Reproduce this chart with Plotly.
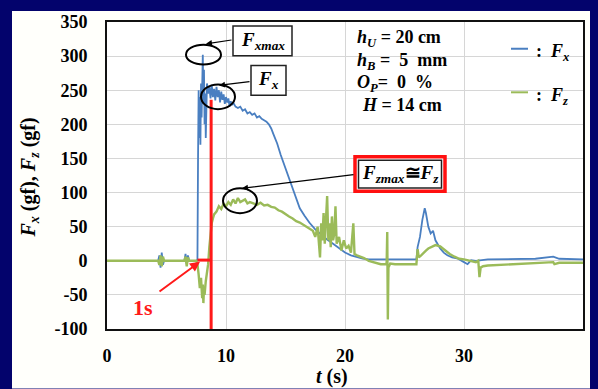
import plotly.graph_objects as go

# ---------------- data ----------------
t_x = [0, 4.3, 4.4, 4.5, 4.6, 4.7, 4.8, 6.5, 6.6, 6.7, 6.8, 6.9, 7.5,
       7.6, 7.65, 7.7, 7.75, 7.8, 7.85, 7.9, 7.95, 8.0, 8.05, 8.1, 8.15, 8.2, 8.25, 8.3, 8.35, 8.4,
       8.5, 8.6, 8.7, 8.8, 8.9, 9.0, 9.1, 9.2, 9.3, 9.4, 9.5, 9.6, 9.7, 9.8, 9.9, 10.0, 10.1, 10.2, 10.3, 10.4, 10.5, 10.6,
       10.8, 11.0, 11.2, 11.4, 11.6, 11.8, 12.0, 12.2, 12.4, 12.6, 12.8, 13.0, 13.2, 13.4, 13.6, 13.8,
       14.0, 14.3, 14.6, 15.0, 15.4, 15.8, 16.2, 16.6, 17.0, 17.5, 18.0, 18.5, 19.0, 19.5, 20.0, 20.5, 21.0, 21.5, 22.0, 24.0, 26.0,
       26.1, 26.3, 26.5, 26.7, 26.8, 26.9, 27.0, 27.2, 27.4, 27.6, 27.8, 28.0, 28.3, 28.6, 29.0, 29.5, 30.0, 30.3, 30.6, 31.0,
       32, 34, 36, 37.5, 38, 40]
F_x = [0, 0, 8, -10, 12, -6, 0, 0, 10, -5, 8, 0, 0,
       2, 150, 250, 180, 240, 170, 260, 210, 255, 302, 230, 280, 200, 245, 180, 240, 260,
       245, 255, 238, 258, 240, 252, 235, 255, 240, 250, 232, 248, 236, 244, 230, 240, 232, 238, 226, 234, 228, 232,
       226, 224, 226, 220, 222, 216, 218, 214, 216, 210, 212, 208, 206, 204, 200, 194,
       185, 172, 155, 135, 116, 95, 77, 66, 56, 46, 38, 31, 25, 18, 12, 8, 5, 3, 2, 2, 2,
       20, 35, 60, 77, 70, 62, 50, 40, 44, 30, 24, 18, 12, 8, 5, 3, -2, -5, 1, 0,
       2, 2, 3, 6, 3, 2]

t_z = [0, 4.3, 4.4, 4.5, 4.6, 4.7, 4.8, 6.5, 6.6, 6.7, 6.8, 6.9, 7.5,
       7.6, 7.7, 7.8, 7.9, 8.0, 8.05, 8.1, 8.15, 8.2, 8.3, 8.4, 8.5, 8.6, 8.7, 8.8, 8.9, 9.0,
       9.2, 9.4, 9.6, 9.8, 10.0, 10.2, 10.4, 10.6, 10.8, 11.0, 11.2, 11.4, 11.6, 11.8, 12.0,
       12.3, 12.6, 12.9, 13.2, 13.5, 13.8, 14.1, 14.4, 14.7, 15.0, 15.3, 15.6, 15.9, 16.2, 16.5, 16.8, 17.1,
       17.3, 17.5, 17.7, 17.9, 18.0, 18.1, 18.2, 18.3, 18.4, 18.5, 18.6, 18.7, 18.8, 18.9, 19.0,
       19.1, 19.2, 19.3, 19.5, 19.7, 19.9, 20.1, 20.3, 20.5, 20.7, 20.8, 21.0,
       21.3, 21.6, 22.0, 22.5, 23.0, 23.4, 23.5, 23.55, 23.6, 23.65, 23.8, 24.2, 25, 26.0,
       26.1, 26.2, 26.4, 26.6, 26.8, 27.0, 27.3, 27.6, 28.0, 28.4, 28.8, 29.2, 29.6, 30.0,
       30.5, 31.0, 31.2, 31.3, 31.4, 31.6, 32, 33, 34, 35, 36, 37, 37.5, 37.6, 38, 39, 40]
F_z = [0, 0, -6, 8, -8, 6, 0, 0, 6, -8, 5, 0, 0,
       -5, -20, -40, -25, -55, -35, -62, -40, -50, -30, -20, -5, 20, 45, 55, 62, 68,
       72, 80, 76, 84, 80, 86, 82, 90, 84, 92, 86, 88, 90, 84, 86,
       84, 82, 85, 81, 82, 79, 78, 74, 72, 68, 65, 62, 58, 56, 53, 50, 46,
       44, 35, 50, 5, 55, 30, 70, 25, 60, 95, 30, 55, 20, 65, 30,
       40, 80, 25, 35, 15, 30, 18, 22, 12, 55, 10, 8,
       6, 4, 0, -3, -5, -5, -3, 42, -86, -10, -4, -5, -5, -5,
       17, 5, 8, 12, 15, 18, 20, 23, 21, 15, 10, 6, 3, 2,
       0, -2, 0, -24, -10, -8, -7, -6, -5, -4, -4, -3, -2, -5, -3, -3, -3]

x_ticks = [0, 10, 20, 30]
y_ticks = [-100, -50, 0, 50, 100, 150, 200, 250, 300, 350]

# ---------------- layout helpers (pixel -> paper) ----------------
W, H = 598, 389
L, R, T, B = 107, 15, 19, 60
PW, PH = W - L - R, H - T - B


def px(x):
    return (x - L) / PW


def py(y):
    return (H - B - y) / PH


NAVY = "#03036c"
SERIF = "Liberation Serif"
BLUE = "#4a7fc1"
GREEN = "#9bbb59"

fig = go.Figure()
fig.add_trace(go.Scatter(x=t_x, y=F_x, mode="lines", name="Fx",
                         line=dict(color=BLUE, width=1.8), showlegend=False))
fig.add_trace(go.Scatter(x=t_z, y=F_z, mode="lines", name="Fz",
                         line=dict(color=GREEN, width=2.4), showlegend=False))

shapes = []
# white panel on navy background
shapes.append(dict(type="rect", xref="paper", yref="paper", layer="below",
                   x0=px(12), x1=px(590), y0=py(389), y1=py(8),
                   fillcolor="#fffffb", line=dict(width=0)))
shapes.append(dict(type="rect", xref="paper", yref="paper", layer="below",
                   x0=0, x1=1, y0=0, y1=1, fillcolor="white", line=dict(width=0)))

# red marker lines (1 s interval)
shapes.append(dict(type="line", xref="x", yref="y", x0=8.75, x1=8.75, y0=-100, y1=236,
                   line=dict(color="#ff1a1a", width=3)))
shapes.append(dict(type="line", xref="x", yref="y", x0=7.6, x1=8.75, y0=1, y1=1,
                   line=dict(color="#ff1a1a", width=3)))

# ellipses
for (x0, x1, y0, y1) in [(186, 221, 42, 62), (201, 235, 82, 107), (223, 257, 187, 212)]:
    shapes.append(dict(type="circle", xref="paper", yref="paper",
                       x0=px(x0), x1=px(x1), y0=py(y1), y1=py(y0),
                       line=dict(color="black", width=2)))

# boxes
shapes.append(dict(type="rect", xref="paper", yref="paper",
                   x0=px(233), x1=px(292), y0=py(53), y1=py(23),
                   fillcolor="white", line=dict(color="#222", width=1.5)))
shapes.append(dict(type="rect", xref="paper", yref="paper",
                   x0=px(251), x1=px(286), y0=py(93), y1=py(63),
                   fillcolor="white", line=dict(color="#222", width=1.5)))
shapes.append(dict(type="rect", xref="paper", yref="paper",
                   x0=px(355), x1=px(445), y0=py(190), y1=py(155),
                   fillcolor="white", line=dict(color="#ff1010", width=3.5)))
shapes.append(dict(type="rect", xref="paper", yref="paper",
                   x0=px(358.5), x1=px(441.5), y0=py(186.5), y1=py(158.5),
                   fillcolor="rgba(0,0,0,0)", line=dict(color="#222", width=1.5)))

# manual legend lines
shapes.append(dict(type="line", xref="paper", yref="paper", x0=px(511), x1=px(528),
                   y0=py(46), y1=py(46), line=dict(color=BLUE, width=2)))
shapes.append(dict(type="line", xref="paper", yref="paper", x0=px(511), x1=px(528),
                   y0=py(90), y1=py(90), line=dict(color=GREEN, width=2)))

ann = []


def text(x, y, s, size=16, color="black", xanchor="center", angle=0):
    ann.append(dict(x=px(x), y=py(y), xref="paper", yref="paper", text=s, showarrow=False,
                    xanchor=xanchor, yanchor="middle", textangle=angle,
                    font=dict(family=SERIF, size=size, color=color)))


def arrow(xh, yh, xt, yt, color="black", width=1.2, size=1.0):
    ann.append(dict(x=px(xh), y=py(yh), xref="paper", yref="paper",
                    ax=xt - xh, ay=yt - yh, axref="pixel", ayref="pixel", text="",
                    showarrow=True, arrowhead=2, arrowsize=size, arrowwidth=width,
                    arrowcolor=color))


# box labels
text(262.5, 38, "<b><i>F</i><sub><i>xmax</i></sub></b>", size=19)
text(268.5, 78, "<b><i>F</i><sub><i>x</i></sub></b>", size=19)
text(400, 172, "<b><i>F</i><sub><i>zmax</i></sub>≅<i>F</i><sub><i>z</i></sub></b>", size=19)

# arrows to ellipses
arrow(206, 41, 233, 37)
arrow(219, 83, 251, 79)
arrow(242, 187, 355, 173)

# red 1 s arrow and text
arrow(200, 261, 158, 292, color="#ff1a1a", width=2, size=1.0)
text(143, 307, "<b>1s</b>", size=22, color="#ff1a1a")

# condition block
text(355, 36, "<b><i>h</i><sub><i>U</i></sub> = 20 cm</b>", size=18, xanchor="left")
text(355, 59, "<b><i>h</i><sub><i>B</i></sub> =  5  mm</b>", size=18, xanchor="left")
text(355, 81, "<b><i>O</i><sub><i>P</i></sub>=  0  %</b>", size=18, xanchor="left")
text(360, 103, "<b><i>H</i> = 14 cm</b>", size=18, xanchor="left")

# legend text
text(534, 50, "<b>:  <i>F</i><sub><i>x</i></sub></b>", size=18, xanchor="left")
text(534, 94, "<b>:  <i>F</i><sub><i>z</i></sub></b>", size=18, xanchor="left")

# axis titles
text(29, 176, "<b><i>F</i><sub><i>x</i></sub> (gf), <i>F</i><sub><i>z</i></sub> (gf)</b>", size=20, angle=-90)
text(332, 377, "<b><i>t</i> (s)</b>", size=20)

fig.update_layout(
    width=W, height=H, margin=dict(l=L, r=R, t=T, b=B),
    paper_bgcolor=NAVY, plot_bgcolor="white",
    shapes=shapes, annotations=ann,
    xaxis=dict(range=[0, 40], tickvals=x_ticks, ticktext=[f"<b>{v}</b>" for v in x_ticks],
               showgrid=True, gridcolor="#d6d6d6", gridwidth=1, zeroline=False,
               showline=True, linecolor="#111", linewidth=2, mirror=True,
               ticks="", ticklabelstandoff=9,
               tickfont=dict(family=SERIF, size=18, color="black")),
    yaxis=dict(range=[-100, 350], tickvals=y_ticks, ticktext=[f"<b>{v}</b>" for v in y_ticks],
               showgrid=True, gridcolor="#d6d6d6", gridwidth=1, zeroline=False,
               showline=True, linecolor="#111", linewidth=2, mirror=True,
               ticks="", ticklabelstandoff=14,
               tickfont=dict(family=SERIF, size=18, color="black")),
)

fig.write_html("out.html")
